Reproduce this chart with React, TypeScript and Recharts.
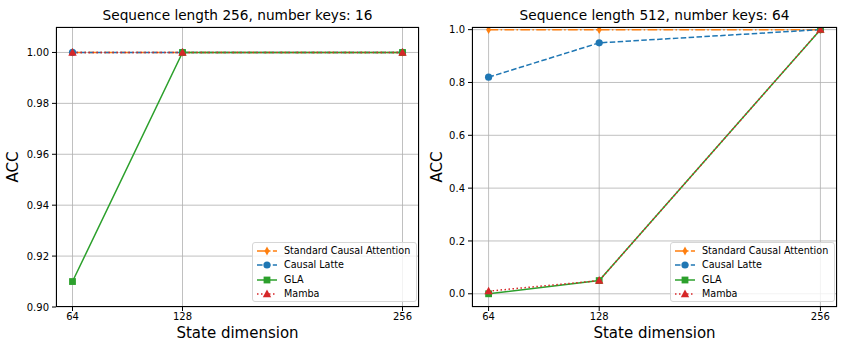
import React from 'react';
import { LineChart, Line, XAxis, YAxis, CartesianGrid } from 'recharts';

const stateDims = [64, 128, 256];

// Sequence length 256, number keys: 16
const sca256 = [1.0, 1.0, 1.0];
const latte256 = [1.0, 1.0, 1.0];
const gla256 = [0.91, 1.0, 1.0];
const mamba256 = [1.0, 1.0, 1.0];

// Sequence length 512, number keys: 64
const sca512 = [1.0, 1.0, 1.0];
const latte512 = [0.82, 0.95, 1.0];
const gla512 = [0.0, 0.05, 1.0];
const mamba512 = [0.01, 0.05, 1.0];

const leftTicks = [0.9, 0.92, 0.94, 0.96, 0.98, 1.0];
const rightTicks = [0, 0.2, 0.4, 0.6, 0.8, 1.0];

const FONT = '"DejaVu Sans", sans-serif';

type Shape = 'diamond' | 'circle' | 'square' | 'triangle';

interface SeriesDef {
  name: string;
  key: string;
  color: string;
  dash?: string;
  shape: Shape;
}

const series: SeriesDef[] = [
  { name: 'Standard Causal Attention', key: 'sca', color: '#ff7f0e', dash: '9.6 2.4 1.5 2.4', shape: 'diamond' },
  { name: 'Causal Latte', key: 'latte', color: '#1f77b4', dash: '5.5 2.4', shape: 'circle' },
  { name: 'GLA', key: 'gla', color: '#2ca02c', shape: 'square' },
  { name: 'Mamba', key: 'mamba', color: '#d62728', dash: '1.5 2.5', shape: 'triangle' },
];

const buildRows = (sca: number[], latte: number[], gla: number[], mamba: number[]) =>
  stateDims.map((d, i) => ({ dim: d, sca: sca[i], latte: latte[i], gla: gla[i], mamba: mamba[i] }));

const rows256 = buildRows(sca256, latte256, gla256, mamba256);
const rows512 = buildRows(sca512, latte512, gla512, mamba512);

const marker = (shape: Shape, color: string, cx: number, cy: number, key?: string) => {
  if (shape === 'circle') return <circle key={key} cx={cx} cy={cy} r={3.6} fill={color} />;
  if (shape === 'square')
    return <rect key={key} x={cx - 3.4} y={cy - 3.4} width={6.8} height={6.8} fill={color} />;
  if (shape === 'triangle')
    return (
      <polygon key={key} points={`${cx},${cy - 4.5} ${cx + 4.2},${cy + 3.2} ${cx - 4.2},${cy + 3.2}`} fill={color} />
    );
  return (
    <polygon key={key} points={`${cx},${cy - 4.4} ${cx + 2.5},${cy} ${cx},${cy + 4.4} ${cx - 2.5},${cy}`} fill={color} />
  );
};

const dotFor = (s: SeriesDef) => (props: any) =>
  marker(s.shape, s.color, props.cx, props.cy, `${s.key}-${props.index}`);

const tickStyle = { fontSize: 10, fill: '#000', fontFamily: FONT };

interface PanelProps {
  left: number;
  width: number;
  yAxisWidth: number;
  marginRight: number;
  rows: any[];
  domain: [number, number];
  ticks: number[];
  digits: number;
  title: string;
}

const Legend4: React.FC<{ x: number; y: number }> = ({ x, y }) => (
  <div
    style={{
      position: 'absolute',
      left: x,
      top: y,
      width: 165,
      height: 60,
      boxSizing: 'border-box',
      border: '1px solid #d6d6d6',
      borderRadius: 3,
      background: 'rgba(255,255,255,0.8)',
      fontFamily: FONT,
      fontSize: 9.6,
    }}
  >
    {series.map((s, i) => (
      <div key={s.key} style={{ position: 'absolute', left: 0, top: 1 + i * 14.4, height: 14, width: '100%' }}>
        <svg width={26} height={14} style={{ position: 'absolute', left: 2, top: 0 }}>
          <line x1={2} y1={7} x2={22} y2={7} stroke={s.color} strokeWidth={1.5} strokeDasharray={s.dash} />
          {marker(s.shape, s.color, 12, 7)}
        </svg>
        <span style={{ position: 'absolute', left: 31, top: 0, lineHeight: '14px', whiteSpace: 'nowrap' }}>
          {s.name}
        </span>
      </div>
    ))}
  </div>
);

const Panel: React.FC<PanelProps> = ({ left, width, yAxisWidth, marginRight, rows, domain, ticks, digits, title }) => {
  const plotLeft = yAxisWidth;
  const plotRight = width - marginRight;
  const plotTop = 27;
  const plotBottom = 307;
  const cx = (plotLeft + plotRight) / 2;
  return (
    <div style={{ position: 'absolute', left, top: 0, width, height: 353 }}>
      <LineChart width={width} height={353} data={rows} margin={{ top: plotTop, right: marginRight, bottom: 0, left: 0 }}>
        <CartesianGrid stroke="#b0b0b0" strokeWidth={0.8} />
        <XAxis
          dataKey="dim"
          type="number"
          domain={[54.4, 265.6]}
          ticks={stateDims}
          allowDataOverflow
          height={353 - plotBottom}
          axisLine={false}
          tickLine={{ stroke: '#000' }}
          tickSize={4}
          tickMargin={2}
          tick={tickStyle}
        />
        <YAxis
          type="number"
          domain={domain}
          ticks={ticks}
          allowDataOverflow
          width={yAxisWidth}
          axisLine={false}
          tickLine={{ stroke: '#000' }}
          tickSize={4}
          tickMargin={3}
          tick={tickStyle}
          tickFormatter={(v: number) => v.toFixed(digits)}
        />
        {series.map((s) => (
          <Line
            key={s.key}
            dataKey={s.key}
            type="linear"
            stroke={s.color}
            strokeWidth={1.5}
            strokeDasharray={s.dash}
            dot={dotFor(s)}
            activeDot={false}
            isAnimationActive={false}
          />
        ))}
      </LineChart>
      <div
        style={{
          position: 'absolute',
          left: plotLeft,
          top: plotTop,
          width: plotRight - plotLeft,
          height: plotBottom - plotTop,
          border: '1px solid #000',
          boxSizing: 'border-box',
          pointerEvents: 'none',
        }}
      />
      <div
        style={{
          position: 'absolute',
          left: cx - 200,
          width: 400,
          top: 7,
          textAlign: 'center',
          fontFamily: FONT,
          fontSize: 13.7,
          lineHeight: '17px',
        }}
      >
        {title}
      </div>
      <div
        style={{
          position: 'absolute',
          left: cx - 100,
          width: 200,
          top: 324,
          textAlign: 'center',
          fontFamily: FONT,
          fontSize: 15,
          lineHeight: '18px',
        }}
      >
        State dimension
      </div>
      <div
        style={{
          position: 'absolute',
          left: 13 - 30,
          top: 167 - 9,
          width: 60,
          textAlign: 'center',
          fontFamily: FONT,
          fontSize: 15,
          lineHeight: '18px',
          transform: 'rotate(-90deg)',
        }}
      >
        ACC
      </div>
      <Legend4 x={plotRight - 167} y={242} />
    </div>
  );
};

export default function App() {
  return (
    <div style={{ position: 'absolute', left: 0, top: 0, width: 847, height: 353, background: '#fff' }}>
      <Panel
        left={0}
        width={424}
        yAxisWidth={56}
        marginRight={5}
        rows={rows256}
        domain={[0.9, 1.01]}
        ticks={leftTicks}
        digits={2}
        title="Sequence length 256, number keys: 16"
      />
      <Panel
        left={424}
        width={423}
        yAxisWidth={48}
        marginRight={10}
        rows={rows512}
        domain={[-0.05, 1.01]}
        ticks={rightTicks}
        digits={1}
        title="Sequence length 512, number keys: 64"
      />
    </div>
  );
}
